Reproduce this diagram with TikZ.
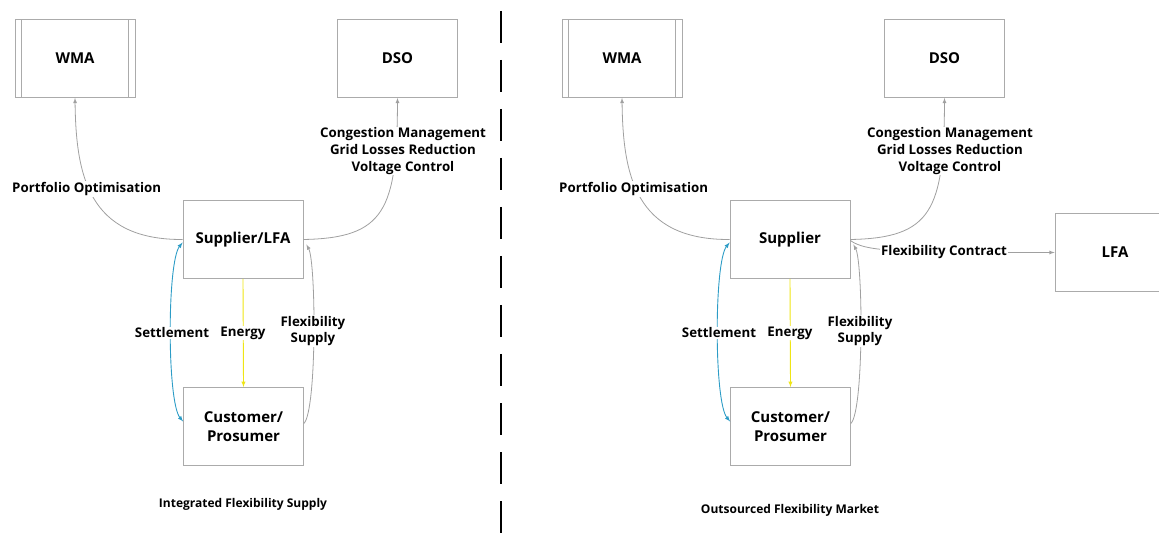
\documentclass[tikz,border=0pt]{standalone}
\usepackage{fontspec}
\setmainfont{Open Sans}
\usepackage{tikz}
\definecolor{linegray}{HTML}{A0A0A0}
\definecolor{boxgray}{HTML}{ABABAB}
\definecolor{settleblue}{HTML}{2C9CC6}
\definecolor{energyyellow}{HTML}{EFE514}

\begin{document}
\begin{tikzpicture}[x=1pt,y=-1pt]
    \tikzstyle{every node}=[inner sep=1pt]
    \tikzstyle{box}=[draw=boxgray,line width=0.8pt,minimum width=120pt,minimum height=78pt,align=center,font=\fontsize{15}{19}\selectfont\bfseries]
    \tikzstyle{lbl}=[fill=white,align=center,font=\fontsize{13.3}{16.8}\selectfont\bfseries]
    \tikzstyle{caption}=[font=\fontsize{12}{14}\selectfont\bfseries]
    \tikzstyle{flow}=[draw=linegray,line width=0.8pt]
    \useasboundingbox (0,0) rectangle (1159,534);
    % integrated flexibility supply
    \draw (75,58.5) node[box] (wma1) {WMA};
    \draw (397.5,58.5) node[box] (dso1) {DSO};
    \draw (243,239.5) node[box] (sup1) {Supplier/LFA};
    \draw (243.5,426.5) node[box] (cus1) {Customer/\\Prosumer};
    \draw[boxgray,line width=0.8pt] ([xshift=7pt]wma1.north west) -- ([xshift=7pt]wma1.south west);
    \draw[boxgray,line width=0.8pt] ([xshift=-7pt]wma1.north east) -- ([xshift=-7pt]wma1.south east);
    \draw[flow,-latex] (sup1.west) .. controls (88,240) and (76,175) .. (wma1.south);
    \draw[flow,-latex] (sup1.east) .. controls (385,238) and (397,210) .. (dso1.south);
    \draw[flow,-latex] ([yshift=3pt]cus1.east) .. controls (317,410) and (316,262) .. ([xshift=3pt,yshift=-5pt]sup1.east);
    \draw[settleblue,line width=0.9pt,latex-latex] ([yshift=-3pt]sup1.west) .. controls (167,262) and (167,402) .. ([yshift=5pt]cus1.west);
    \draw[energyyellow,line width=0.9pt,-latex] (sup1.south) -- (cus1.north);
    \draw (11,189) node[lbl,anchor=west] (port1) {Portfolio Optimisation};
    \draw (403,151) node[lbl] (cong1) {Congestion Management\\Grid Losses Reduction\\Voltage Control};
    \draw (172,333) node[lbl] (sett1) {Settlement};
    \draw (243,333) node[lbl] (ener1) {Energy};
    \draw (313,331) node[lbl] (flex1) {Flexibility\\Supply};
    \draw (243,504) node[caption] (cap1) {Integrated Flexibility Supply};
    % divider
    \draw[line width=2pt,dash pattern=on 32pt off 17pt] (500.5,11) -- (500.5,534);
    % outsourced flexibility market
    \draw (622,58.5) node[box] (wma2) {WMA};
    \draw (944.5,58.5) node[box] (dso2) {DSO};
    \draw (790,239.5) node[box] (sup2) {Supplier};
    \draw (790.5,426.5) node[box] (cus2) {Customer/\\Prosumer};
    \draw (1115,252.5) node[box] (lfa) {LFA};
    \draw[boxgray,line width=0.8pt] ([xshift=7pt]wma2.north west) -- ([xshift=7pt]wma2.south west);
    \draw[boxgray,line width=0.8pt] ([xshift=-7pt]wma2.north east) -- ([xshift=-7pt]wma2.south east);
    \draw[flow,-latex] (sup2.west) .. controls (635,240) and (623,175) .. (wma2.south);
    \draw[flow,-latex] (sup2.east) .. controls (932,238) and (944,210) .. (dso2.south);
    \draw[flow,-latex] ([yshift=3pt]cus2.east) .. controls (864,410) and (863,262) .. ([xshift=3pt,yshift=-5pt]sup2.east);
    \draw[flow,-latex] ([yshift=-1pt]sup2.east) .. controls (866,252) and (900,252.5) .. (lfa.west);
    \draw[settleblue,line width=0.9pt,latex-latex] ([yshift=-3pt]sup2.west) .. controls (714,262) and (714,402) .. ([yshift=5pt]cus2.west);
    \draw[energyyellow,line width=0.9pt,-latex] (sup2.south) -- (cus2.north);
    \draw (558,189) node[lbl,anchor=west] (port2) {Portfolio Optimisation};
    \draw (950,151) node[lbl] (cong2) {Congestion Management\\Grid Losses Reduction\\Voltage Control};
    \draw (719,333) node[lbl] (sett2) {Settlement};
    \draw (790,333) node[lbl] (ener2) {Energy};
    \draw (860,331) node[lbl] (flex2) {Flexibility\\Supply};
    \draw (944,252) node[lbl] (cont) {Flexibility Contract};
    \draw (790,510) node[caption] (cap2) {Outsourced Flexibility Market};
\end{tikzpicture}
\end{document}
